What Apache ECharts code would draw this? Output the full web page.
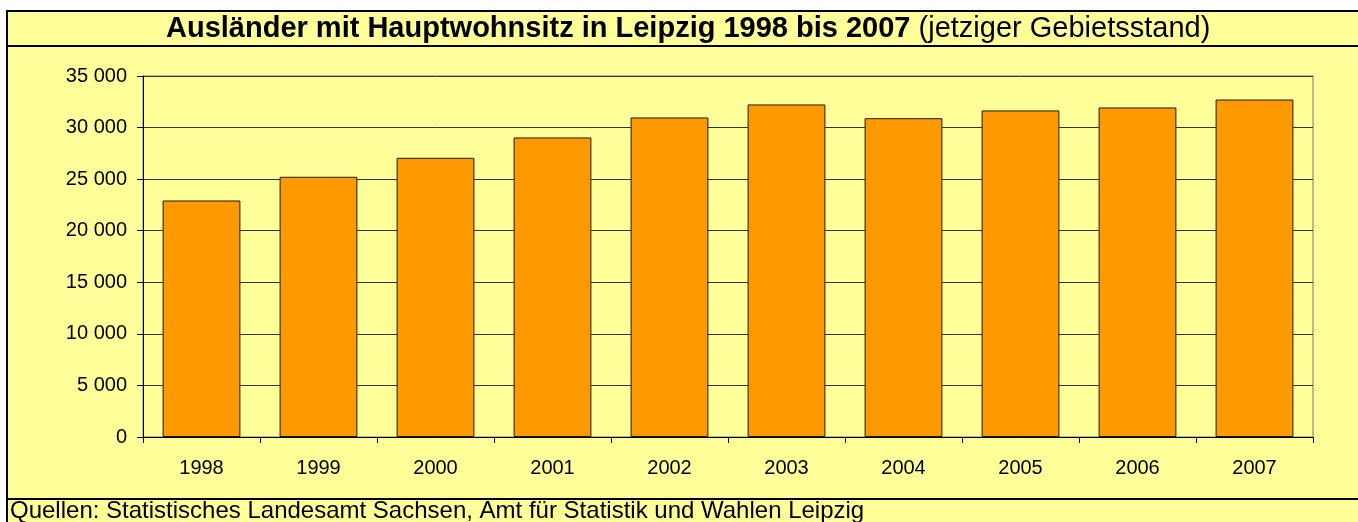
<!DOCTYPE html>
<html>
<head>
<meta charset="utf-8">
<script src="https://cdn.jsdelivr.net/npm/echarts@6/dist/echarts.min.js"></script>
<style>
html,body{margin:0;padding:0;background:#fff;}
#c{width:1358px;height:522px;}
</style>
</head>
<body>
<div id="c"></div>
<script>
const categories = ['1998','1999','2000','2001','2002','2003','2004','2005','2006','2007'];
const values = [22930, 25230, 27070, 29040, 30980, 32240, 30910, 31660, 31950, 32720];
const yTicks = { min: 0, max: 35000, interval: 5000 };
const titleBold = 'Ausländer mit Hauptwohnsitz in Leipzig 1998 bis 2007';
const titleNormal = ' (jetziger Gebietsstand)';
const footer = 'Quellen: Statistisches Landesamt Sachsen, Amt für Statistik und Wahlen Leipzig';

const FONT = "'Liberation Sans', Arial, sans-serif";
const chart = echarts.init(document.getElementById('c'), null, {renderer: 'canvas'});
chart.setOption({
  backgroundColor: '#ffffff',
  animation: false,
  graphic: [
    {type: 'rect', z: -10, silent: true, shape: {x: 7, y: 11, width: 1360, height: 520},
     style: {fill: '#FFFF99', stroke: '#000', lineWidth: 2}},
    {type: 'line', z: -9, silent: true, shape: {x1: 7, y1: 46, x2: 1360, y2: 46},
     style: {stroke: '#000', lineWidth: 2}},
    {type: 'line', z: -9, silent: true, shape: {x1: 7, y1: 499, x2: 1360, y2: 499},
     style: {stroke: '#000', lineWidth: 2}},
    {type: 'text', silent: true, left: 10, top: 499,
     style: {text: footer, font: "24px 'Liberation Sans', Arial, sans-serif", fill: '#000'}}
  ],
  title: {
    text: '{b|' + titleBold + '}{n|' + titleNormal + '}',
    left: 166,
    top: 14,
    padding: 0,
    textStyle: {
      rich: {
        b: {fontFamily: FONT, fontWeight: 'bold', fontSize: 29, color: '#000'},
        n: {fontFamily: FONT, fontWeight: 'normal', fontSize: 29, color: '#000'}
      }
    }
  },
  grid: {left: 143, right: 45, top: 76, bottom: 85, show: true, borderColor: '#777', borderWidth: 1, backgroundColor: 'transparent'},
  xAxis: {
    type: 'category',
    data: categories,
    axisLine: {show: true, lineStyle: {color: '#000', width: 1}},
    axisTick: {show: true, length: 6, lineStyle: {color: '#000'}},
    axisLabel: {fontFamily: FONT, fontSize: 20, color: '#000', margin: 21}
  },
  yAxis: {
    type: 'value',
    min: yTicks.min, max: yTicks.max, interval: yTicks.interval,
    axisLine: {show: true, lineStyle: {color: '#000', width: 1}},
    axisTick: {show: true, length: 6, lineStyle: {color: '#000'}},
    splitLine: {show: true, lineStyle: {color: '#333', width: 1}},
    axisLabel: {
      fontFamily: FONT, fontSize: 20, color: '#000', margin: 16,
      formatter: function (v) { return String(v).replace(/\B(?=(\d{3})+(?!\d))/g, ' '); }
    }
  },
  series: [{
    type: 'bar',
    data: values,
    barCategoryGap: '33.5%',
    itemStyle: {color: '#FF9900', borderColor: '#1a1a1a', borderWidth: 1}
  }]
});
</script>
</body>
</html>
